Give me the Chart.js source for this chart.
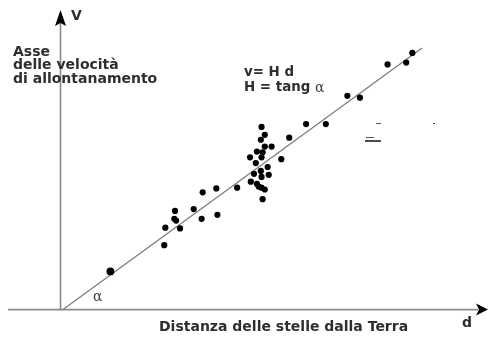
<!DOCTYPE html>
<html>
<head>
<meta charset="utf-8">
<script src="https://cdn.jsdelivr.net/npm/chart.js@4/dist/chart.umd.min.js"></script>
<style>
html,body{margin:0;padding:0;background:#fff;}
canvas{display:block;}
</style>
</head>
<body>
<canvas id="c" width="488" height="338"></canvas>
<script>
// Galaxy distances (d) and recession velocities (v), arbitrary units
const distances = [28.2,28.5,31.2,31.0,31.5,32.6,36.4,38.6,38.9,42.7,43.0,48.5,52.3,
  55.3,56.2,55.1,63.0,58.1,56.2,54.0,55.6,52.1,55.3,60.8,53.7,57.0,53.2,55.1,57.3,55.3,
  54.0,54.5,55.3,56.2,55.6,67.7,73.2,79.2,82.7,90.4,95.6,97.3];
const velocities = [24.6,31.3,37.7,34.7,34.0,31.0,38.4,34.7,44.8,46.3,36.2,46.6,48.9,
  69.8,66.8,64.9,65.7,62.3,62.3,60.4,60.1,58.2,58.2,57.5,56.0,54.5,51.9,53.0,51.5,50.7,
  48.1,47.0,46.6,45.9,42.2,70.9,70.9,81.7,81.0,93.7,94.4,98.1];
const markedDistance = [13.2];
const markedVelocity = [14.6];
const fitDistance = [0, 100];
const fitVelocity = [0, 100];

const yTitle = ["Asse", "delle velocità", "di allontanamento"];
const xTitle = "Distanza delle stelle dalla Terra";
const formula = ["v= H d", "H = tang "];

const pts = distances.map((d,i)=>({x:d,y:velocities[i]}));
const marked = markedDistance.map((d,i)=>({x:d,y:markedVelocity[i]}));
const fit = fitDistance.map((d,i)=>({x:d,y:fitVelocity[i]}));

const decor = {
  id:'decor',
  beforeDatasetsDraw(chart){
    const ctx = chart.ctx, xs = chart.scales.x, ys = chart.scales.y;
    const ox = xs.getPixelForValue(-0.7), oy = ys.getPixelForValue(0);
    ctx.save();
    ctx.strokeStyle = '#8a8a8a';
    ctx.lineWidth = 1.6;
    ctx.beginPath();
    ctx.moveTo(8, oy); ctx.lineTo(478, oy);
    ctx.moveTo(ox, oy); ctx.lineTo(ox, 22);
    ctx.stroke();
    ctx.fillStyle = '#000';
    ctx.beginPath();
    ctx.moveTo(ox, 10); ctx.lineTo(ox+5.5, 26); ctx.lineTo(ox, 23); ctx.lineTo(ox-5.5, 26); ctx.closePath();
    ctx.fill();
    ctx.beginPath();
    ctx.moveTo(488, oy); ctx.lineTo(476, oy-6); ctx.lineTo(479, oy); ctx.lineTo(476, oy+6); ctx.closePath();
    ctx.fill();
    ctx.restore();
  },
  afterDatasetsDraw(chart){
    const ctx = chart.ctx;
    ctx.save();
    ctx.fillStyle = '#2e2e2e';
    ctx.textBaseline = 'middle';
    ctx.font = 'bold 14px "DejaVu Sans"';
    ctx.fillText('V', 71, 16);
    yTitle.forEach((t,i)=>ctx.fillText(t, 13, 52 + i*13.5));
    ctx.fillText(xTitle, 159, 327);
    ctx.fillText('d', 462, 323);
    ctx.font = 'bold 13.4px "DejaVu Sans"';
    ctx.fillText(formula[0], 244, 73);
    ctx.fillText(formula[1], 244, 88);
    const w = ctx.measureText(formula[1]).width;
    ctx.font = '14px "DejaVu Serif"';
    ctx.fillStyle = '#444';
    ctx.fillText('\u03b1', 244 + w, 88);
    ctx.fillText('\u03b1', 93, 297);
    // small stray marks
    ctx.strokeStyle = '#555';
    ctx.lineWidth = 1;
    ctx.beginPath();
    ctx.moveTo(376, 123.5); ctx.lineTo(381, 123.5);
    ctx.moveTo(433, 123.5); ctx.lineTo(435, 123.5);
    ctx.moveTo(366, 137.5); ctx.lineTo(374, 137.5);
    ctx.stroke();
    ctx.strokeStyle = '#111';
    ctx.lineWidth = 1.5;
    ctx.beginPath();
    ctx.moveTo(365, 141); ctx.lineTo(381, 141);
    ctx.stroke();
    ctx.restore();
  }
};

new Chart(document.getElementById('c'), {
  type:'scatter',
  data:{datasets:[
    {data:fit, showLine:true, borderColor:'#7a7a7a', borderWidth:1.2, pointRadius:0, order:3},
    {data:pts, pointRadius:3.1, pointBackgroundColor:'#000', pointBorderWidth:0, order:1},
    {data:marked, pointRadius:3.9, pointBackgroundColor:'#000', pointBorderWidth:0, order:2}
  ]},
  options:{
    responsive:false, animation:false,
    layout:{padding:0},
    plugins:{legend:{display:false}, tooltip:{enabled:false}},
    scales:{
      x:{type:'linear', display:false, min:-16.44, max:117.26},
      y:{type:'linear', display:false, min:-9.33, max:116.79}
    }
  },
  plugins:[decor]
});
</script>
</body>
</html>
